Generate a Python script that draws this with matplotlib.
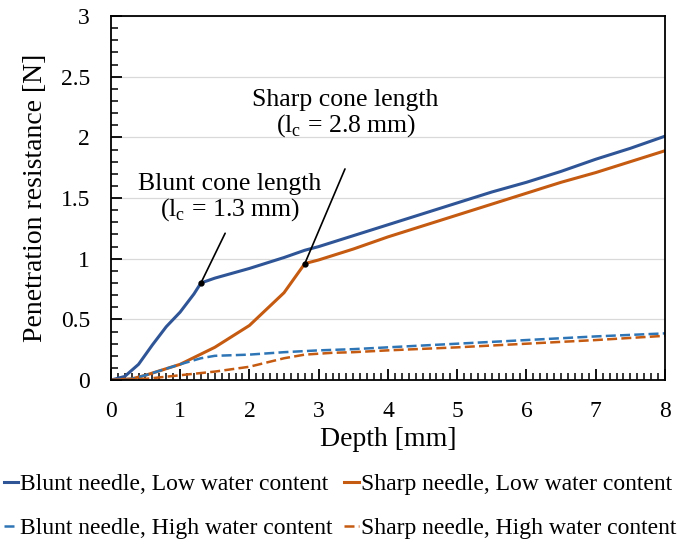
import numpy as np
import matplotlib
matplotlib.use("Agg")
import matplotlib.pyplot as plt
from matplotlib.ticker import MultipleLocator

plt.rcParams['font.family'] = ['Liberation Serif', 'DejaVu Serif']
plt.rcParams['mathtext.fontset'] = 'custom'
plt.rcParams['mathtext.rm'] = 'Liberation Serif'

# blunt needle, low water content
blunt_low_x = [0, 0.2, 0.4, 0.5, 0.6, 0.8, 1.0, 1.2, 1.3, 1.5, 2.0, 2.5, 2.8, 3.0, 3.5, 4.0, 4.5, 5.0, 5.5, 6.0, 6.5, 7.0, 7.5, 8.0]
blunt_low_y = [0, 0.03, 0.13, 0.21, 0.29, 0.44, 0.56, 0.71, 0.80, 0.84, 0.92, 1.01, 1.07, 1.10, 1.19, 1.28, 1.37, 1.46, 1.55, 1.63, 1.72, 1.82, 1.91, 2.01]
# sharp needle, low water content
sharp_low_x = [0, 0.3, 0.5, 1.0, 1.5, 2.0, 2.5, 2.8, 3.0, 3.5, 4.0, 4.5, 5.0, 5.5, 6.0, 6.5, 7.0, 7.5, 8.0]
sharp_low_y = [0, 0.01, 0.04, 0.13, 0.27, 0.45, 0.72, 0.96, 0.99, 1.08, 1.18, 1.27, 1.36, 1.45, 1.54, 1.63, 1.71, 1.80, 1.89]
# blunt needle, high water content
blunt_high_x = [0, 0.3, 0.5, 1.0, 1.3, 1.5, 2.0, 2.5, 3.0, 3.5, 4.0, 5.0, 6.0, 7.0, 8.0]
blunt_high_y = [0, 0.01, 0.04, 0.13, 0.18, 0.20, 0.21, 0.23, 0.245, 0.255, 0.27, 0.30, 0.33, 0.36, 0.385]
# sharp needle, high water content
sharp_high_x = [0, 0.5, 1.0, 1.5, 2.0, 2.5, 2.8, 3.2, 3.5, 4.0, 5.0, 6.0, 7.0, 8.0]
sharp_high_y = [0, 0.01, 0.04, 0.07, 0.11, 0.18, 0.21, 0.225, 0.23, 0.245, 0.27, 0.30, 0.33, 0.365]

dark_blue = '#2f5597'
orange = '#c55a11'
light_blue = '#2e75b6'

fig = plt.figure(figsize=(6.8, 5.43), dpi=100)
ax = fig.add_axes([0.163, 0.300, 0.815, 0.6705])

l1, = ax.plot(blunt_low_x, blunt_low_y, color=dark_blue, lw=2.2, label='Blunt needle, Low water content')
l2, = ax.plot(sharp_low_x, sharp_low_y, color=orange, lw=2.2, label='Sharp needle, Low water content')
l3, = ax.plot(blunt_high_x, blunt_high_y, color=light_blue, lw=1.8, ls=(0, (4, 1.7)), label='Blunt needle, High water content')
l4, = ax.plot(sharp_high_x, sharp_high_y, color=orange, lw=1.8, ls=(0, (4, 1.7)), label='Sharp needle, High water content')

ax.set_xlim(0, 8)
ax.set_ylim(0, 3)
ax.xaxis.set_major_locator(MultipleLocator(1))
ax.xaxis.set_minor_locator(MultipleLocator(0.1))
ax.yaxis.set_minor_locator(MultipleLocator(0.1))
ax.set_yticks([0, 0.5, 1, 1.5, 2, 2.5, 3])
ax.set_yticklabels(['0', '0.5', '1', '1.5', '2', '2.5', '3'])
ax.tick_params(axis='x', which='major', direction='in', length=8, width=1.3, labelsize=17, pad=15)
ax.tick_params(axis='y', which='major', direction='in', length=8, width=1.3, labelsize=17, pad=15)
ax.tick_params(which='minor', direction='in', length=5, width=1.1)
ax.grid(axis='y', color='#d9d9d9', lw=0.9)
ax.set_axisbelow(True)
for s in ax.spines.values():
    s.set_linewidth(1.3)

ax.set_xlabel('Depth [mm]', fontsize=20, labelpad=4)
ax.set_ylabel('Penetration resistance [N]', fontsize=20, labelpad=9)

# cone length annotations
ax.annotate('', xy=(1.3, 0.80), xytext=(1.65, 1.21),
            arrowprops=dict(arrowstyle='-', color='black', lw=1.2, shrinkA=0, shrinkB=0))
ax.plot([1.3], [0.80], 'o', color='black', ms=3.5)
ax.text(1.72, 1.50, 'Blunt cone length\n(l$_\\mathregular{c}$ = 1.3 mm)', ha='center', va='center',
        fontsize=18.5, linespacing=1.05)
ax.annotate('', xy=(2.8, 0.96), xytext=(3.38, 1.74),
            arrowprops=dict(arrowstyle='-', color='black', lw=1.2, shrinkA=0, shrinkB=0))
ax.plot([2.8], [0.96], 'o', color='black', ms=3.5)
ax.text(3.39, 2.19, 'Sharp cone length\n(l$_\\mathregular{c}$ = 2.8 mm)', ha='center', va='center',
        fontsize=18.5, linespacing=1.05)

fig.legend(handles=[l1, l3, l2, l4], loc='lower center', bbox_to_anchor=(0.5, -0.01), ncol=2, frameon=False,
           fontsize=17, handlelength=0.6, handletextpad=0.1, columnspacing=0.5,
           labelspacing=0.95, borderaxespad=0.0)

fig.savefig('out.png', dpi=100)
